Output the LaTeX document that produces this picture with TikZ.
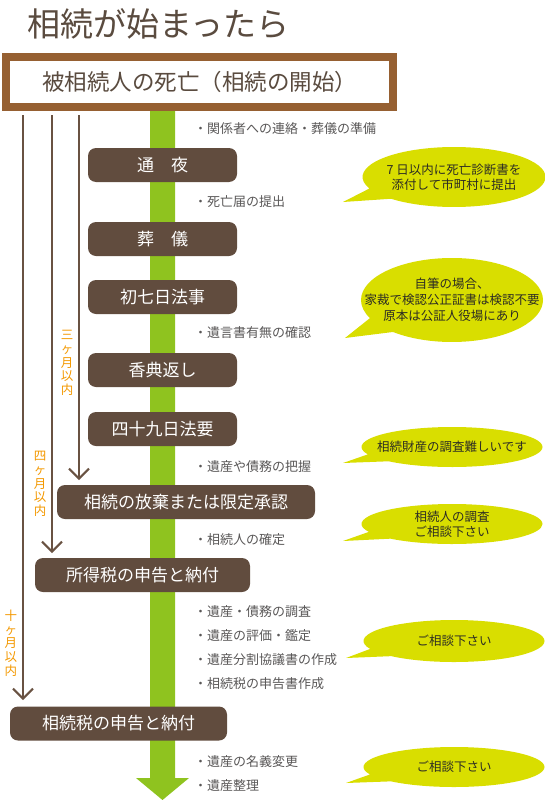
\documentclass[tikz,border=0pt]{standalone}
\usepackage{fontspec}
\setmainfont{Noto Sans CJK JP}
\usetikzlibrary{arrows.meta,shapes.callouts,calc}

\definecolor{titlebrown}{RGB}{90,75,63}
\definecolor{framebrown}{RGB}{150,96,50}
\definecolor{boxbrown}{RGB}{97,76,62}
\definecolor{linebrown}{RGB}{105,82,66}
\definecolor{shaftgreen}{RGB}{143,195,31}
\definecolor{bubbleyellow}{RGB}{217,222,0}
\definecolor{bubbleink}{RGB}{45,45,35}
\definecolor{memogray}{RGB}{89,87,87}
\definecolor{periodorange}{RGB}{243,152,0}

\newcommand{\jpsize}[2]{\fontsize{#1}{#2}\selectfont}

\begin{document}
\begin{tikzpicture}[x=1pt, y=-1pt,
    stage/.style={fill=boxbrown, text=white, rounded corners=8pt, minimum height=34pt, inner sep=0pt, font=\jpsize{17}{17}},
    memo/.style={anchor=west, inner sep=0pt, text=memogray, font=\jpsize{13}{13}},
    bubble/.style={ellipse callout, fill=bubbleyellow, inner sep=0pt, callout pointer arc=24},
    bubbletext/.style={align=center, inner sep=0pt, text=bubbleink, font=\jpsize{12.5}{15}},
    limit/.style={draw=linebrown, line width=2pt, -{Straight Barb[length=10pt,width=20pt,line width=2pt]}},
    period/.style={align=center, inner sep=0pt, text=periodorange, font=\jpsize{12.5}{13.7}}
]
    \useasboundingbox (0,0) rectangle (545,800);

    % Title
    \node[anchor=west, inner sep=0pt, text=titlebrown, font=\jpsize{33}{33}] (title) at (27,24) {相続が始まったら};

    % Green flow arrow
    \fill[shaftgreen] (150,111) -- (175,111) -- (175,778) -- (189,778) -- (162.5,800) -- (136,778) -- (150,778) -- cycle;

    % Start
    \node[draw=framebrown, line width=8pt, fill=white, minimum width=387pt, minimum height=50pt, inner sep=0pt, text=titlebrown, font=\jpsize{22.5}{22.5}] (death) at (199.5,82) {被相続人の死亡（相続の開始）};

    % Steps
    \node[stage, minimum width=149pt] (tsuya) at (162.5,165) {通　夜};
    \node[stage, minimum width=149pt] (sougi) at (162.5,239) {葬　儀};
    \node[stage, minimum width=149pt] (shonanoka) at (162.5,297) {初七日法事};
    \node[stage, minimum width=149pt] (kouden) at (162.5,370) {香典返し};
    \node[stage, minimum width=149pt] (shijuku) at (162.5,429) {四十九日法要};
    \node[stage, minimum width=258pt] (houki) at (186,502) {相続の放棄または限定承認};
    \node[stage, minimum width=215pt] (shotoku) at (142.5,575) {所得税の申告と納付};
    \node[stage, minimum width=217pt] (souzoku) at (118.5,723.5) {相続税の申告と納付};

    % Deadlines
    \coordinate (tip3) at (79,480);
    \coordinate (tip4) at (52,553);
    \coordinate (tip10) at (23,700);
    \draw[limit] ($(death.south -| tip3)+(0,4)$) -- (tip3);
    \draw[limit] ($(death.south -| tip4)+(0,4)$) -- (tip4);
    \draw[limit] ($(death.south -| tip10)+(0,4)$) -- (tip10);
    \node[period] (p3) at (67,363) {三\\ヶ\\月\\以\\内};
    \node[period] (p4) at (40,484) {四\\ヶ\\月\\以\\内};
    \node[period] (p10) at (11,643) {十\\ヶ\\月\\以\\内};

    % Notes
    \node[memo] (n-renraku) at (194,129) {・関係者への連絡・葬儀の準備};
    \node[memo] (n-todoke) at (194,202) {・死亡届の提出};
    \node[memo] (n-yuigon) at (194,333) {・遺言書有無の確認};
    \node[memo] (n-haaku) at (194,467) {・遺産や債務の把握};
    \node[memo] (n-kakutei) at (194,540) {・相続人の確定};
    \node[memo] (n-chousa) at (194,612) {・遺産・債務の調査};
    \node[memo] (n-hyouka) at (194,636) {・遺産の評価・鑑定};
    \node[memo] (n-bunkatsu) at (194,660) {・遺産分割協議書の作成};
    \node[memo] (n-shinkoku) at (194,684) {・相続税の申告書作成};
    \node[memo] (n-meigi) at (194,762) {・遺産の名義変更};
    \node[memo] (n-seiri) at (194,786) {・遺産整理};

    % Bubbles
    \node[bubble, minimum width=183pt, minimum height=60pt, callout absolute pointer={(343,202)}] (b-shibou) at (454,177) {};
    \node[bubbletext] (t-shibou) at (b-shibou) {7 日以内に死亡診断書を\\添付して市町村に提出};
    \node[bubble, minimum width=182pt, minimum height=84pt, callout absolute pointer={(345,338)}] (b-kenin) at (452,300) {};
    \node[bubbletext, font=\jpsize{12.5}{16}] (t-kenin) at (b-kenin) {自筆の場合、\\家裁で検認公正証書は検認不要\\原本は公証人役場にあり};
    \node[bubble, minimum width=181pt, minimum height=40pt, callout absolute pointer={(343,463)}] (b-zaisan) at (452,447) {};
    \node[bubbletext] (t-zaisan) at (b-zaisan) {相続財産の調査難しいです};
    \node[bubble, minimum width=181pt, minimum height=40pt, callout absolute pointer={(343,541)}] (b-souzokunin) at (452,524) {};
    \node[bubbletext] (t-souzokunin) at (b-souzokunin) {相続人の調査\\ご相談下さい};
    \node[bubble, minimum width=181pt, minimum height=42pt, callout absolute pointer={(346,658)}] (b-soudan1) at (454,641) {};
    \node[bubbletext] (t-soudan1) at (b-soudan1) {ご相談下さい};
    \node[bubble, minimum width=181pt, minimum height=40pt, callout absolute pointer={(346,783)}] (b-soudan2) at (454,767) {};
    \node[bubbletext] (t-soudan2) at (b-soudan2) {ご相談下さい};
\end{tikzpicture}
\end{document}
